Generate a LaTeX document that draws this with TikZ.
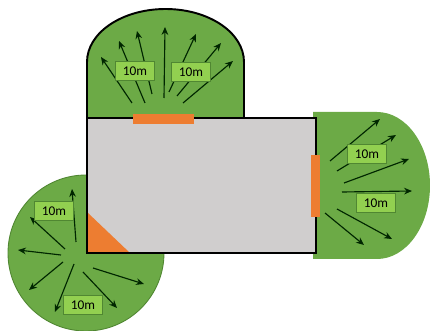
\documentclass[tikz,border=0pt]{standalone}
\usepackage{fontspec}
\setmainfont{Carlito}
\usetikzlibrary{arrows.meta}
\definecolor{zonegreen} {RGB}{108,170,70}
\definecolor{labelgreen}{RGB}{146,208,80}
\definecolor{edgegreen} {RGB}{80,135,50}
\definecolor{doororange}{RGB}{237,125,49}
\definecolor{roomgray}  {RGB}{208,206,206}

\begin{document}
\begin{tikzpicture}[
  x=0.02cm,y=-0.02cm,
  >={Stealth[length=4.5pt,width=3.8pt]},
  zone/.style={fill=zonegreen},
  door/.style={fill=doororange},
  ray/.style={->,line width=0.65pt,draw=black!85!green},
  distlabel/.style={draw=edgegreen,fill=labelgreen,line width=0.4pt,minimum width=22.5pt,
                    minimum height=10.8pt,inner sep=0pt,font=\fontsize{7.6}{8}\selectfont},
]
\useasboundingbox (0,0) rectangle (430,331);

%% green zones
\fill[zone] (87,118) -- (87,62) arc[start angle=180,end angle=360,x radius=78.5,y radius=53]
  -- (244,118) -- cycle;
\draw[line width=1.1pt] (87,118) -- (87,62) arc[start angle=180,end angle=360,x radius=78.5,y radius=53]
  -- (244,118);
\fill[zone] (313,112) -- (377,112) arc[start angle=270,end angle=450,x radius=53,y radius=73.5]
  -- (313,259) -- cycle;
\draw[zone,draw=edgegreen,line width=0.5pt] (86,253) circle[radius=78];

%% room
\fill[roomgray] (87,118) rectangle (316,253);
\fill[door] (88,213) -- (130,253) -- (88,253) -- cycle;
\draw[line width=1.1pt] (87,118) rectangle (316,253);
\fill[door] (133,114) rectangle (194,124);
\fill[door] (311,155) rectangle (320,217);

%% arrows, top zone
\foreach \i/\xa/\ya/\xb/\yb in {1/132/103/101/57,2/145/103/119/41,3/152/94/137/31,4/164/98/165/27,
                                5/169/92/196/34,6/177/96/221/43,7/183/103/233/61}{
  \coordinate (ts\i) at (\xa,\ya);
  \coordinate (te\i) at (\xb,\yb);
  \draw[ray] (ts\i) -- (te\i);
}
%% arrows, left zone
\foreach \i/\xa/\ya/\xb/\yb in {1/76/242/72/189,2/65/249/30/217,3/61/255/18/250,4/63/262/29/290,
                                5/74/264/55/312,6/83/272/117/308,7/93/268/144/284}{
  \coordinate (ls\i) at (\xa,\ya);
  \coordinate (le\i) at (\xb,\yb);
  \draw[ray] (ls\i) -- (le\i);
}
%% arrows, right zone
\foreach \i/\xa/\ya/\xb/\yb in {1/330/161/380/119,2/337/171/396/135,3/344/183/409/159,
                                4/342/192/412/191,5/337/209/392/239,6/325/213/364/245}{
  \coordinate (rs\i) at (\xa,\ya);
  \coordinate (re\i) at (\xb,\yb);
  \draw[ray] (rs\i) -- (re\i);
}

%% labels
\node[distlabel] (topA)   at (135,71)  {10m};
\node[distlabel] (topB)   at (191,72)  {10m};
\node[distlabel] (leftA)  at (54,211)  {10m};
\node[distlabel] (leftB)  at (83,305)  {10m};
\node[distlabel] (rightA) at (367,154) {10m};
\node[distlabel] (rightB) at (376,203) {10m};

\end{tikzpicture}
\end{document}
